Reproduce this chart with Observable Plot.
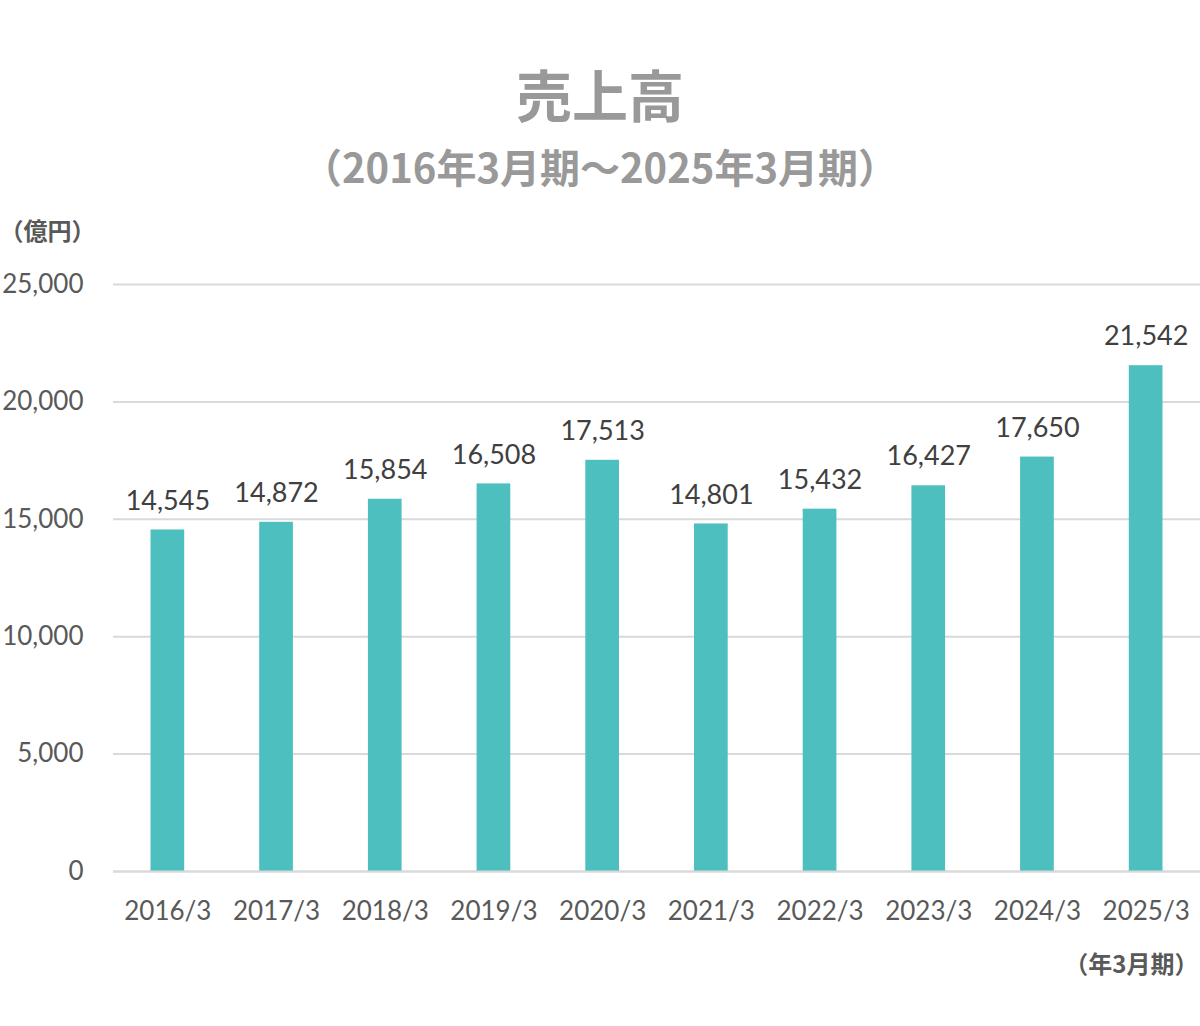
<!DOCTYPE html>
<html><head><meta charset="utf-8">
<script src="https://cdn.jsdelivr.net/npm/d3@7"></script>
<script src="https://cdn.jsdelivr.net/npm/@observablehq/plot@0.6"></script>
<style>
body{margin:0;background:#fff;width:1200px;}
#head{position:relative;height:210px;font-family:"Noto Sans CJK JP",sans-serif;color:#999;font-weight:700;}
#t1{position:absolute;left:0;width:1200px;top:55px;text-align:center;font-size:56px;line-height:76px;}
#t2{position:absolute;left:0;width:1200px;top:140px;text-align:center;font-size:40px;line-height:52px;}
</style></head>
<body>
<div id="head"><div id="t1">売上高</div><div id="t2">（2016年3月期～2025年3月期）</div></div>
<div id="chart"></div>
<script>
const years = ["2016/3","2017/3","2018/3","2019/3","2020/3","2021/3","2022/3","2023/3","2024/3","2025/3"];
const sales = [14545,14872,15854,16508,17513,14801,15432,16427,17650,21542];
const yTicks = [0,5000,10000,15000,20000,25000];
const data = years.map((y,i)=>({year:y, value:sales[i]}));
const fmt = d3.format(",");
const plot = Plot.plot({
  width:1200, height:816,
  marginTop:74, marginBottom:155, marginLeft:113, marginRight:0,
  style:{fontFamily:"Lato, sans-serif", background:"#fff"},
  x:{domain:years, paddingInner:0.69, paddingOuter:0.345, round:false, label:null, tickSize:0},
  y:{domain:[0,25000], ticks:yTicks, label:null, tickFormat:fmt, tickSize:0},
  marks:[
    Plot.gridY(yTicks,{stroke:"#d9d9d9", strokeWidth:2, strokeOpacity:1}),
    Plot.barY(data,{x:"year", y:"value", fill:"#4dbfbf"}),
    Plot.ruleY([0],{stroke:"#d9d9d9", strokeWidth:2}),
    Plot.text(data,{x:"year", y:"value", text:d=>fmt(d.value), dy:-29, fontSize:27, fill:"#404040"}),
    Plot.axisY(yTicks,{tickSize:0, tickPadding:30, fontSize:26, fill:"#595959", tickFormat:fmt, label:null}),
    Plot.axisX({tickSize:0, tickPadding:30, fontSize:26, fill:"#595959", label:null}),
    Plot.text(["（億円）"],{frameAnchor:"top-left", dx:-114, dy:-62, fontSize:24, fontWeight:700, fill:"#595959", textAnchor:"start", fontFamily:"Noto Sans CJK JP"}),
    Plot.text(["（年3月期）"],{frameAnchor:"bottom-right", dx:-2, dy:101, fontSize:24, fontWeight:700, fill:"#595959", textAnchor:"end", fontFamily:"Noto Sans CJK JP"})
  ]
});
document.getElementById("chart").appendChild(plot);
</script>
</body></html>
